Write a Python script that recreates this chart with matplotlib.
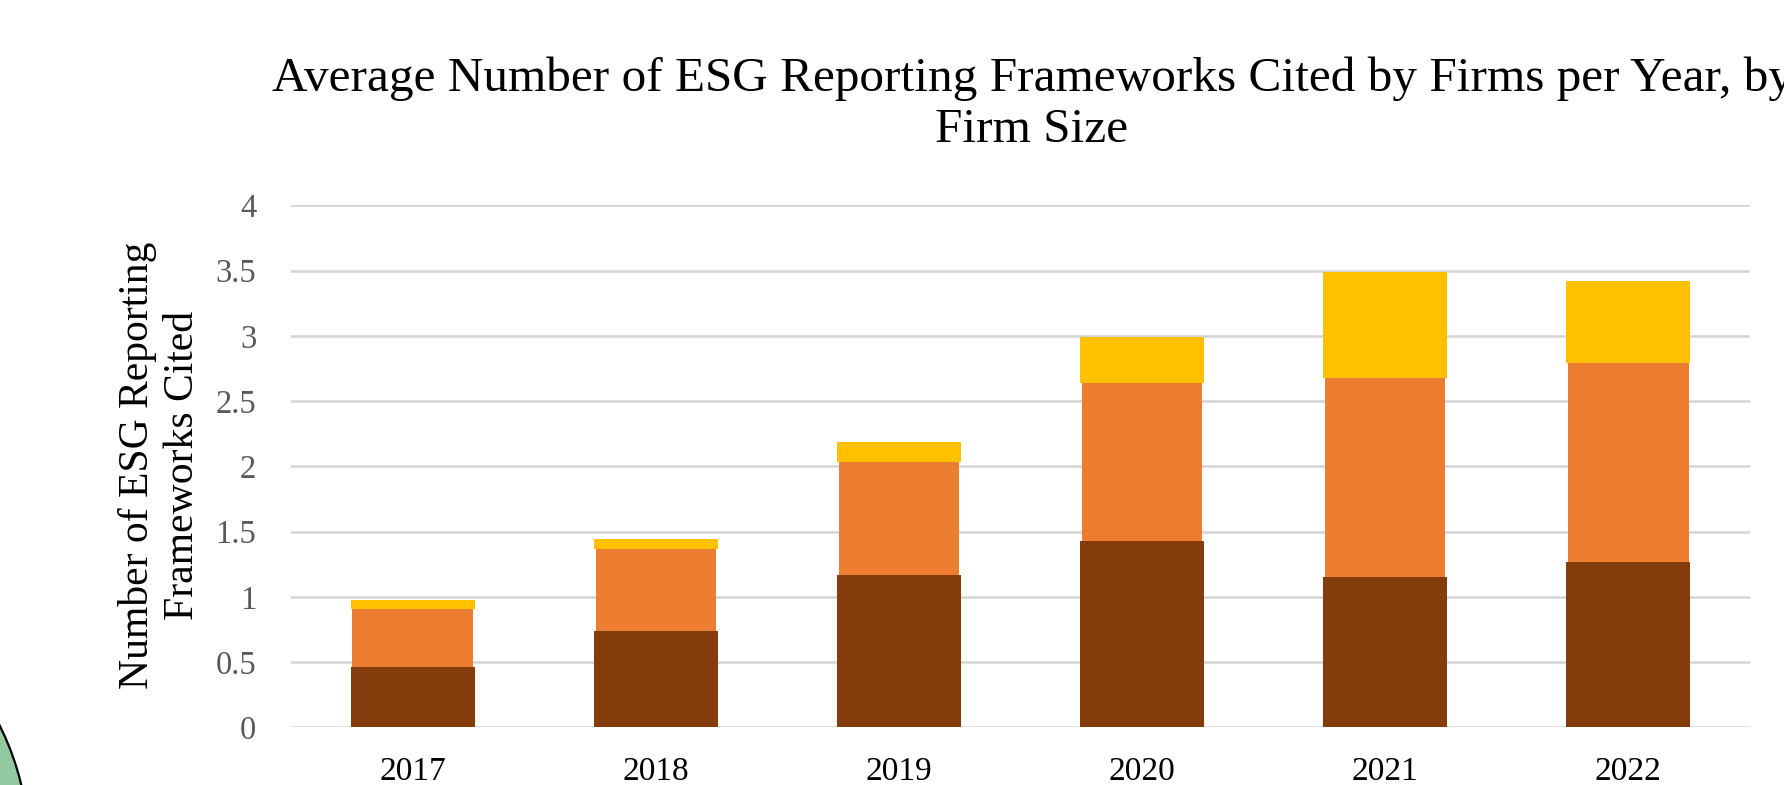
import matplotlib
matplotlib.use("Agg")
import matplotlib.pyplot as plt
from matplotlib.patches import Ellipse
import numpy as np

# Average number of frameworks cited, stacked by firm-size group
years = ["2017", "2018", "2019", "2020", "2021", "2022"]
large_firms = [0.46, 0.735, 1.17, 1.43, 1.155, 1.27]
mid_firms = [0.45, 0.63, 0.86, 1.21, 1.525, 1.52]
small_firms = [0.065, 0.08, 0.16, 0.35, 0.81, 0.63]
y_ticks = [0, 0.5, 1, 1.5, 2, 2.5, 3, 3.5, 4]
y_tick_labels = ["0", "0.5", "1", "1.5", "2", "2.5", "3", "3.5", "4"]

title_text = "Average Number of ESG Reporting Frameworks Cited by Firms per Year, by\nFirm Size"
ylabel_text = "Number of ESG Reporting\nFrameworks Cited"

plt.rcParams["font.family"] = ["Liberation Serif", "DejaVu Serif"]

W, H, DPI = 1784, 785, 100
fig = plt.figure(figsize=(W / DPI, H / DPI), dpi=DPI)
fig.patch.set_facecolor("white")

# decorative green shape in the lower-left corner
r = 279
blob = Ellipse((-250 / W, -65 / H), 2 * r / W, 2 * r / H,
               transform=fig.transFigure, facecolor="#93c9a0",
               edgecolor="black", linewidth=1.6, zorder=0)
fig.patches.append(blob)

ax = fig.add_axes([291 / W, 1 - 727.3 / H, (1750 - 291) / W, (727.3 - 205.3) / H])
ax.set_facecolor("none")

x = np.arange(len(years))
large = np.array(large_firms)
mid = np.array(mid_firms)
small = np.array(small_firms)

ax.bar(x, large, width=0.51, color="#843C0C", zorder=3)
ax.bar(x, mid, width=0.495, bottom=large, color="#ED7D31", zorder=3)
ax.bar(x, small, width=0.51, bottom=large + mid, color="#FFC000", zorder=3)

ax.set_xlim(-0.5, len(years) - 0.5)
ax.set_ylim(0, 4)
ax.set_yticks(y_ticks)
ax.set_yticklabels(y_tick_labels)
ax.set_xticks(x)
ax.set_xticklabels(years)
ax.tick_params(axis="y", length=0, pad=25, labelsize=23.5, labelcolor="#595959")
ax.tick_params(axis="x", length=0, pad=21, labelsize=24, labelcolor="black")

ax.yaxis.grid(True, color="#d4d4d4", linewidth=1.8, zorder=0)
ax.set_axisbelow(True)
for s in ax.spines.values():
    s.set_visible(False)

fig.text(160 / W, 1 - 465 / H, ylabel_text, rotation=90, ha="center",
         va="center", fontsize=30, color="black", linespacing=1.25)

fig.text(1032 / W, 1 - 104 / H, title_text, ha="center", va="center",
         fontsize=35.5, color="black", linespacing=1.2)

fig.savefig("out.png", dpi=DPI)
